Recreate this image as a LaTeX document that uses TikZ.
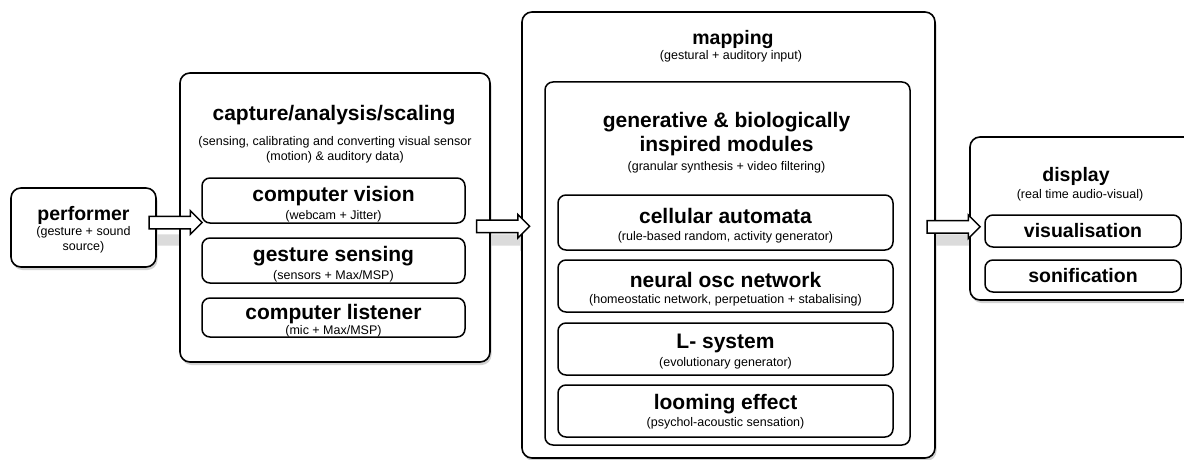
\documentclass[tikz,border=0pt]{standalone}
\usepackage{fontspec}
\setmainfont{Liberation Sans}
\usetikzlibrary{shapes.arrows,shadows,calc}
\begin{document}
\begin{tikzpicture}[x=1pt,y=-1pt,
  outerbox/.style={draw, line width=1.6pt, rounded corners=10pt, fill=white,
    drop shadow={shadow xshift=1.5pt, shadow yshift=-3pt, fill=gray!35, opacity=1}},
  innerbox/.style={draw, line width=1.5pt, rounded corners=8pt, fill=white},
  ttl/.style={font=\bfseries\fontsize{21}{24}\selectfont, inner sep=0pt, align=center},
  sttl/.style={font=\bfseries\fontsize{19.5}{22}\selectfont, inner sep=0pt, align=center},
  sub/.style={font=\fontsize{12.5}{15.5}\selectfont, inner sep=0pt, align=center},
  blockarrow/.style={single arrow, draw, line width=1.5pt, fill=white,
    minimum height=53pt, single arrow head extend=5.5pt, single arrow tip angle=90,
    inner xsep=0pt, inner ysep=5.5pt},
  arrowshadow/.style={single arrow, draw=none, fill=gray!28,
    minimum height=53pt, single arrow head extend=5.5pt, single arrow tip angle=90,
    inner xsep=0pt, inner ysep=5.5pt}
]
\useasboundingbox (0,0) rectangle (1184,460);
\fill[white] (0,0) rectangle (1184,460);

% arrow shadows (behind boxes)
\node[arrowshadow] (a1s) at (174.5,240) {};
\node[arrowshadow] (a2s) at (502,240) {};
\node[arrowshadow] (a3s) at (952,240) {};

% outer boxes
\node[outerbox, minimum width=145pt, minimum height=79pt] (perf) at (83.5,227.5) {};
\node[outerbox, minimum width=310pt, minimum height=289pt] (cap) at (335,217.5) {};
\node[outerbox, minimum width=413pt, minimum height=446pt] (map) at (728.5,235) {};
\node[outerbox, minimum width=230pt, minimum height=163pt] (disp) at (1085,218.5) {};

% performer
\node[sttl] (perfT) at (83.5,215) {performer};
\node[sub] (perfS) at (83.5,240) {(gesture + sound\\source)};

% capture
\node[ttl] (capT) at (334,115) {capture/analysis/scaling};
\node[sub] (capS) at (335,150) {(sensing, calibrating and converting visual sensor\\(motion) \& auditory data)};
\node[innerbox, minimum width=263pt, minimum height=45pt] (cv) at (333.5,200.5) {};
\node[ttl] (cvT) at (333.5,196) {computer vision};
\node[sub] (cvS) at (333.5,216.5) {(webcam + Jitter)};
\node[innerbox, minimum width=263pt, minimum height=45pt] (gs) at (333.5,260.5) {};
\node[ttl] (gsT) at (333.5,256) {gesture sensing};
\node[sub] (gsS) at (333.5,276) {(sensors + Max/MSP)};
\node[innerbox, minimum width=263pt, minimum height=39pt] (cl) at (333.5,317.5) {};
\node[ttl] (clT) at (333.5,314) {computer listener};
\node[sub] (clS) at (333.5,331) {(mic + Max/MSP)};

% mapping
\node[sttl] (mapT) at (733,40) {mapping};
\node[sub] (mapS) at (731,56) {(gestural + auditory input)};
\node[innerbox, minimum width=365pt, minimum height=363pt] (gen) at (727.5,263.5) {};
\node[ttl] (genT) at (726.5,134) {generative \& biologically\\inspired modules};
\node[sub] (genS) at (726.5,167) {(granular synthesis + video filtering)};
\node[innerbox, minimum width=335pt, minimum height=55pt] (ca) at (725.5,222.5) {};
\node[ttl] (caT) at (725.5,216) {cellular automata};
\node[sub] (caS) at (725.5,237) {(rule-based random, activity generator)};
\node[innerbox, minimum width=335pt, minimum height=52pt] (non) at (725.5,286) {};
\node[ttl] (nonT) at (725.5,280) {neural osc network};
\node[sub] (nonS) at (725.5,300) {(homeostatic network, perpetuation + stabalising)};
\node[innerbox, minimum width=335pt, minimum height=52pt] (ls) at (725.5,349) {};
\node[ttl] (lsT) at (725.5,343) {L- system};
\node[sub] (lsS) at (725.5,363) {(evolutionary generator)};
\node[innerbox, minimum width=335pt, minimum height=52pt] (le) at (725.5,411) {};
\node[ttl] (leT) at (725.5,404) {looming effect};
\node[sub] (leS) at (725.5,423) {(psychol-acoustic sensation)};

% display
\node[sttl] (dispT) at (1076,176) {display};
\node[sub] (dispS) at (1080,195) {(real time audio-visual)};
\node[innerbox, sttl, minimum width=196pt, minimum height=32pt] (vis) at (1083,231) {visualisation};
\node[innerbox, sttl, minimum width=196pt, minimum height=32pt] (son) at (1083,276) {sonification};

% block arrows
\node[blockarrow] (a1) at ($(perf.east)!0.5!(cap.west)+(4.5,0)$) {};
\node[blockarrow] (a2) at ($(cap.east)!0.5!(map.west)+(-6,0)$) {};
\node[blockarrow] (a3) at ($(map.east)!0.5!(disp.west)+(-2,0)$) {};
\end{tikzpicture}
\end{document}
